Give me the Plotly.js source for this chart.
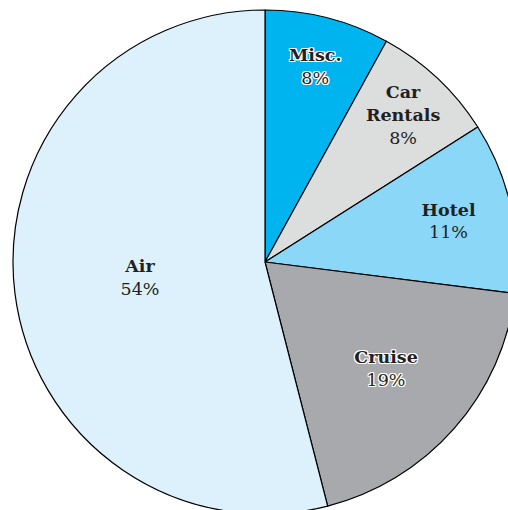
<!DOCTYPE html>
<html><head><meta charset="utf-8">
<script src="https://cdn.plot.ly/plotly-3.0.1.min.js"></script>
<style>html,body{margin:0;padding:0;overflow:hidden;background:#fff;width:508px;height:510px}</style>
</head><body><div id="chart"></div>
<script>
const categories = ["Misc.", "Car<br>Rentals", "Hotel", "Cruise", "Air"];
const values = [8, 8, 11, 19, 54];
const colors = ["#00b5ef", "#dcdddd", "#8ad7f8", "#a7a9ac", "#ddf1fc"];
const halo = "1px 0 0 #fff, -1px 0 0 #fff, 0 1px 0 #fff, 0 -1px 0 #fff, 1px 1px 0 #fff, -1px -1px 0 #fff, 1px -1px 0 #fff, -1px 1px 0 #fff";
const shadows = [halo, "none", "none", halo, "none"];

const trace = {
  type: "pie",
  labels: categories,
  values: values,
  sort: false,
  direction: "clockwise",
  rotation: 0,
  marker: {colors: colors, line: {color: "#000", width: 1.2}},
  texttemplate: "<b>%{label}</b><br>%{percent:.0%}",
  textposition: "inside",
  insidetextorientation: "horizontal",
  textfont: {family: "DejaVu Serif", size: 17.5, color: "#231f20", shadow: shadows},
  hoverinfo: "none",
  showlegend: false
};
Plotly.newPlot("chart", [trace], {
  width: 530, height: 530,
  margin: {l: 13, r: 13, t: 10, b: 16},
  paper_bgcolor: "#fff"
}, {staticPlot: true});
</script></body></html>
